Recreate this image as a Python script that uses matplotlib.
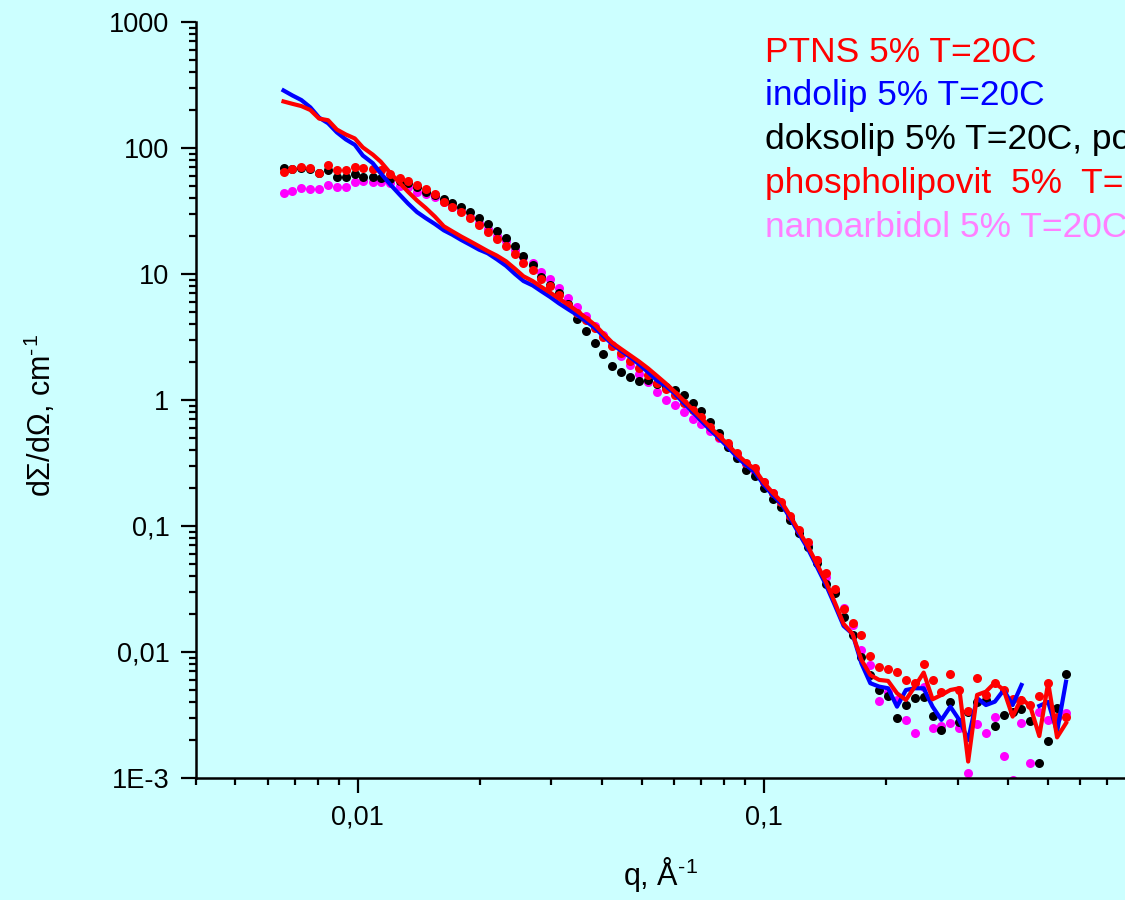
import numpy as np
import matplotlib
matplotlib.use("Agg")
import matplotlib.pyplot as plt
from matplotlib.ticker import FixedLocator, FixedFormatter, LogLocator, NullFormatter

plt.rcParams['font.family'] = ['Liberation Sans', 'DejaVu Sans']
plt.rcParams['mathtext.fontset'] = 'custom'
plt.rcParams['mathtext.rm'] = 'Liberation Sans'
plt.rcParams['mathtext.default'] = 'regular'

# scattering vector q, 1/A
q = [0.00657, 0.00691, 0.00727, 0.00765, 0.00804, 0.00846, 0.00889, 0.00935, 0.00984,
     0.0103, 0.0109, 0.0114, 0.0120, 0.0127, 0.0133, 0.0140, 0.0147, 0.0155, 0.0163, 0.0171,
     0.0180, 0.0189, 0.0199, 0.0209, 0.0220, 0.0232, 0.0244, 0.0256, 0.0270, 0.0283,
     0.0298, 0.0313, 0.0330, 0.0347, 0.0365, 0.0384, 0.0403, 0.0424, 0.0446, 0.0469,
     0.0493, 0.0519, 0.0546, 0.0574, 0.0604, 0.0635, 0.0668, 0.0702, 0.0738, 0.0777,
     0.0817, 0.0859, 0.0903, 0.0950, 0.0999, 0.1051, 0.1105, 0.1162, 0.1222, 0.1285,
     0.1352, 0.1422, 0.1495, 0.1572, 0.1654, 0.1739, 0.1829, 0.1923, 0.2023, 0.2128,
     0.2238, 0.2353, 0.2475, 0.2603, 0.2737, 0.2879, 0.3028, 0.3185, 0.3350, 0.3522,
     0.3705, 0.3896, 0.4098, 0.4309, 0.4532, 0.4767, 0.5013, 0.5272, 0.5545]

ptns = [234, 224, 215, 200, 171, 166, 140, 128, 119,
        101, 88.5, 77.8, 64.0, 52.7, 45.0, 38.3, 33.5, 28.5, 23.9, 21.8,
        19.8, 18.2, 16.6, 15.2, 14.0, 12.6, 11.0, 9.59, 8.77, 7.91,
        7.11, 6.38, 5.70, 5.07, 4.49, 3.94, 3.35, 2.84, 2.53, 2.26,
        2.02, 1.78, 1.55, 1.35, 1.16, 0.989, 0.841, 0.716, 0.608, 0.516,
        0.440, 0.370, 0.321, 0.282, 0.222, 0.184, 0.156, 0.120, 0.0903, 0.0687,
        0.0497, 0.0360, 0.0248, 0.0167, 0.0139, 0.00865, 0.00656, 0.00600, 0.00589, 0.00470,
        0.00416, 0.00531, 0.00686, 0.00421, 0.00456, 0.00499, 0.00515, 0.00135, 0.00456, 0.00484,
        0.00570, 0.00499, 0.00307, 0.00430, 0.00368, 0.00215, 0.00570, 0.00210, 0.00272]

indolip = [286, 261, 240, 210, 174, 157, 133, 117, 106,
           87.1, 75.7, 63.0, 51.8, 42.5, 36.3, 31.0, 27.8, 24.9, 22.2, 20.5,
           18.6, 17.1, 15.6, 14.6, 13.1, 11.6, 10.0, 8.79, 8.10, 7.31,
           6.56, 5.85, 5.24, 4.73, 4.22, 3.72, 3.21, 2.77, 2.45, 2.19,
           1.92, 1.66, 1.43, 1.29, 1.12, 0.946, 0.804, 0.681, 0.578, 0.495,
           0.420, 0.353, 0.305, 0.268, 0.213, 0.176, 0.150, 0.115, 0.0865, 0.0656,
           0.0473, 0.0341, 0.0236, 0.0161, 0.0139, 0.00813, 0.00565, 0.00531, 0.00515, 0.00368,
           0.00499, 0.00515, 0.00515, 0.00368, 0.00289, 0.00368, 0.00289, 0.00200, 0.00430, 0.00379,
           0.00403, 0.00499, 0.00379, 0.00547, np.nan, 0.00373, 0.00401, 0.00233, 0.00581]

doksolip = [69.8, 68.1, 69.4, 67.8, 63.3, 66.9, 59.2, 59.2, 62.5,
            59.2, 58.5, 58.1, 56.7, 54.7, 52.7, 49.3, 45.0, 42.4, 39.6, 36.4,
            33.7, 30.8, 27.7, 24.8, 21.9, 19.4, 16.7, 13.9, 11.8, 9.42,
            8.18, 7.03, 5.78, 4.37, 3.53, 2.82, 2.31, 1.87, 1.68, 1.51,
            1.42, 1.44, 1.34, 1.27, 1.19, 1.10, 0.942, 0.818, 0.673, 0.544,
            0.421, 0.344, 0.278, 0.249, 0.201, 0.164, 0.141, 0.112, 0.0875, 0.0685,
            0.0506, 0.0347, 0.0292, 0.0191, 0.0136, 0.00918, 0.00657, 0.00499, 0.00448, 0.00298,
            0.00380, 0.00429, 0.00442, 0.00310, 0.00240, 0.00401, 0.00280, 0.00334, 0.00403, 0.00416,
            0.00260, 0.00315, 0.00334, 0.00351, 0.00283, 0.00131, 0.00198, 0.00359, 0.00669]

phospholipovit = [64.8, 67.8, 71.1, 69.8, 63.0, 73.3, 66.9, 66.9, 71.1,
                  69.0, 68.5, 66.9, 62.2, 57.5, 54.7, 50.6, 47.0, 42.9, 37.5, 34.2,
                  30.9, 27.8, 24.5, 21.4, 19.0, 16.8, 14.4, 12.2, 10.8, 9.18,
                  8.03, 6.81, 5.67, 4.93, 4.31, 3.71, 3.18, 2.68, 2.35, 2.05,
                  1.79, 1.58, 1.37, 1.22, 1.10, 0.952, 0.833, 0.737, 0.614, 0.511,
                  0.453, 0.378, 0.315, 0.287, 0.225, 0.182, 0.156, 0.120, 0.0930, 0.0751,
                  0.0537, 0.0426, 0.0315, 0.0218, 0.0171, 0.0136, 0.0093, 0.00764, 0.00733, 0.00690,
                  0.00600, 0.00571, 0.00799, 0.00600, 0.00484, 0.00669, 0.00499, 0.00342, 0.00625, 0.00456,
                  0.00565, 0.00499, 0.00421, 0.00416, 0.00380, 0.00448, 0.00565, 0.00303, 0.00303]

nanoarbidol = [43.7, 45.8, 47.9, 47.3, 47.0, 51.1, 49.3, 49.3, 53.7,
               54.4, 54.0, 54.0, 52.5, 49.9, 48.8, 45.0, 43.1, 40.9, 37.1, 34.0,
               31.6, 28.5, 25.5, 22.6, 20.0, 18.1, 15.5, 13.6, 12.2, 10.4,
               9.08, 7.70, 6.48, 5.47, 4.64, 3.87, 3.28, 2.73, 2.24, 1.90,
               1.60, 1.39, 1.16, 1.00, 0.913, 0.803, 0.707, 0.641, 0.567, 0.502,
               0.440, 0.366, 0.310, 0.268, 0.224, 0.183, 0.152, 0.116, 0.0896, 0.0707,
               0.0537, 0.0396, 0.0301, 0.0224, 0.0164, 0.0104, 0.00789, 0.00411, 0.00484, 0.00416,
               0.00289, 0.00229, 0.00523, 0.00248, 0.00259, 0.00272, 0.00248, 0.00110, 0.00267, 0.00229,
               0.00307, 0.00150, 0.00096, 0.00272, 0.00132, 0.00334, 0.00289, 0.00299, 0.00326]

legend_texts = ["PTNS 5% T=20C", "indolip 5% T=20C", "doksolip 5% T=20C, po",
                "phospholipovit  5%  T=20C", "nanoarbidol 5% T=20C"]
legend_colors = ["#FF0000", "#0000FF", "#000000", "#FF0000", "#FF80FF"]

x_ticks = [0.01, 0.1]
x_labels = ["0,01", "0,1"]
y_ticks = [0.001, 0.01, 0.1, 1, 10, 100, 1000]
y_labels = ["1E-3", "0,01", "0,1", "1", "10", "100", "1000"]

bg = "#CCFFFF"
fig = plt.figure(figsize=(11.25, 9), dpi=100, facecolor=bg)
ax = fig.add_axes([0.1742, 0.1356, 0.8658, 0.84], facecolor=bg)

ax.plot(q, nanoarbidol, "o", color="#FF00FF", ms=6.5, mew=0)
ax.plot(q, doksolip, "o", color="black", ms=6.5, mew=0)
ax.plot(q, phospholipovit, "o", color="#FF0000", ms=6.5, mew=0)
ax.plot(q, indolip, "-", color="#0000FF", lw=3.0)
ax.plot(q, ptns, "-", color="#FF0000", lw=3.0)

ax.set_xscale("log")
ax.set_yscale("log")
ax.set_xlim(0.004, 1)
ax.set_ylim(0.001, 1000)

ax.xaxis.set_major_locator(FixedLocator(x_ticks))
ax.xaxis.set_major_formatter(FixedFormatter(x_labels))
ax.yaxis.set_major_locator(FixedLocator(y_ticks))
ax.yaxis.set_major_formatter(FixedFormatter(y_labels))
ax.xaxis.set_minor_locator(LogLocator(base=10, subs=np.arange(2, 10), numticks=20))
ax.yaxis.set_minor_locator(LogLocator(base=10, subs=np.arange(2, 10), numticks=20))
ax.xaxis.set_minor_formatter(NullFormatter())
ax.yaxis.set_minor_formatter(NullFormatter())

for s in ["top", "right"]:
    ax.spines[s].set_visible(False)
for s in ["left", "bottom"]:
    ax.spines[s].set_linewidth(1.8)

ax.tick_params(which="major", direction="out", length=11, width=1.6, labelsize=19.5, pad=8)
ax.tick_params(which="minor", direction="out", length=5, width=1.6)

ax.set_xlabel("q, Å$^{\u2010}$$^{1}$", fontsize=22, va="top")
ax.xaxis.set_label_coords(0.477, -0.102)
ax.set_ylabel("dΣ/dΩ, cm$^{\u2010}$$^{1}$", fontsize=22)
ax.yaxis.set_label_coords(-0.142, 0.479)

baselines = [61.7, 105, 148.5, 193, 237]
for txt, col, yb in zip(legend_texts, legend_colors, baselines):
    fig.text(765 / 1125, 1 - yb / 900, txt, color=col, fontsize=25.5, va="baseline", ha="left")

fig.savefig("out.png", dpi=100, facecolor=bg)
